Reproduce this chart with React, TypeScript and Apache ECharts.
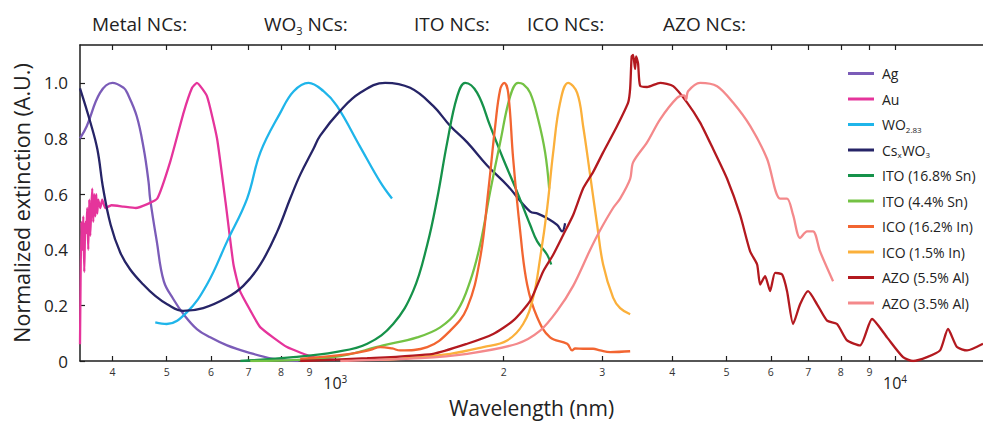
import React, { useEffect, useRef } from 'react';
import * as echarts from 'echarts';

const FONT = '"Open Sans", "Noto Sans", sans-serif';

// Axis extents (nm)
const xMinNm = 350;
const xMaxNm = 14360;
const yMax = 1.136;

// Tick marks (nm)
const minorTickNm = [400, 500, 600, 700, 800, 900, 2000, 3000, 4000, 5000, 6000, 7000, 8000, 9000];
const majorTickNm = [1000, 10000];
const yTicks = [0, 0.2, 0.4, 0.6, 0.8, 1.0];

const groupLabels = ['Metal NCs:', '{a|WO}{b|3}{a| NCs:}', 'ITO NCs:', 'ICO NCs:', 'AZO NCs:'];

const seriesNames = ['Ag', 'Au', 'WO2.83', 'CsxWO3', 'ITO (16.8% Sn)', 'ITO (4.4% Sn)', 'ICO (16.2% In)', 'ICO (1.5% In)', 'AZO (5.5% Al)', 'AZO (3.5% Al)'];
const seriesColors = ['#7b5cb8', '#e5349b', '#1fb5ea', '#262467', '#16924a', '#74c244', '#f26531', '#fbb03b', '#b3191f', '#f4898b'];

const agNm = [350, 360, 380, 400, 419, 425, 442, 455, 464, 467, 480, 494, 514, 536, 566, 598, 641, 696, 775, 860];
const agY = [0.80, 0.845, 0.964, 1.0, 0.982, 0.964, 0.88, 0.762, 0.644, 0.584, 0.43, 0.287, 0.222, 0.168, 0.115, 0.085, 0.056, 0.032, 0.008, 0.0];

const auNm = [350, 351.9, 353.3, 354.8, 356.2, 357.7, 359.2, 360.6, 362.1, 363.6, 365.1, 366.6, 368.1, 369.6, 371.1, 372.7, 374.2, 375.7, 377.3, 380.4, 383.5, 388.3, 398.3, 418.7, 440.2, 462.8, 481, 507, 536, 555, 566, 590, 615, 637, 658, 676, 706, 735, 820, 914, 1000];
const auY = [0.06, 0.50, 0.40, 0.52, 0.32, 0.50, 0.46, 0.55, 0.40, 0.58, 0.45, 0.55, 0.62, 0.50, 0.60, 0.52, 0.60, 0.53, 0.58, 0.55, 0.58, 0.55, 0.56, 0.555, 0.55, 0.565, 0.584, 0.715, 0.893, 0.982, 1.0, 0.952, 0.80, 0.57, 0.347, 0.251, 0.18, 0.121, 0.05, 0.014, 0.004];

const wo283Nm = [477, 500, 543, 590, 641, 696, 735, 798, 843, 896, 953, 1007, 1108, 1203, 1263];
const wo283Y = [0.139, 0.133, 0.175, 0.275, 0.43, 0.584, 0.75, 0.893, 0.97, 1.0, 0.97, 0.917, 0.77, 0.644, 0.584];

const cswo3Nm = [350, 365, 376, 385, 397, 413, 430, 454, 477, 501, 535, 581, 641, 685, 735, 788, 831, 866, 914, 940, 1021, 1108, 1228, 1361, 1496, 1605, 1721, 1868, 2028, 2230, 2300, 2391, 2491, 2543, 2574];
const cswo3Y = [0.98, 0.86, 0.76, 0.62, 0.49, 0.39, 0.33, 0.275, 0.234, 0.204, 0.18, 0.19, 0.228, 0.27, 0.347, 0.466, 0.584, 0.67, 0.762, 0.81, 0.9, 0.964, 1.0, 0.982, 0.917, 0.845, 0.786, 0.703, 0.632, 0.537, 0.53, 0.513, 0.489, 0.466, 0.495];

const ito168Nm = [677, 841, 1000, 1141, 1269, 1378, 1460, 1521, 1585, 1652, 1707, 1793, 1891, 1995, 2113, 2230, 2295, 2391, 2431];
const ito168Y = [0.0, 0.014, 0.032, 0.062, 0.133, 0.252, 0.418, 0.584, 0.786, 0.952, 1.0, 0.964, 0.845, 0.727, 0.608, 0.489, 0.43, 0.382, 0.347];

const ito44Nm = [705, 992, 1218, 1401, 1540, 1652, 1742, 1815, 1891, 1971, 2054, 2122, 2166, 2230, 2304, 2371, 2411];
const ito44Y = [0.0, 0.014, 0.056, 0.085, 0.121, 0.18, 0.287, 0.418, 0.608, 0.786, 0.952, 1.0, 0.995, 0.964, 0.869, 0.75, 0.62];

const ico162Nm = [866, 1064, 1155, 1203, 1264, 1306, 1460, 1605, 1721, 1815, 1876, 1931, 1971, 2004, 2037, 2079, 2140, 2202, 2295, 2420, 2596, 2650, 2683, 2772, 2888, 2973, 3098, 3364];
const ico162Y = [0.008, 0.026, 0.04, 0.05, 0.045, 0.038, 0.05, 0.109, 0.192, 0.37, 0.608, 0.845, 0.976, 1.0, 0.964, 0.727, 0.466, 0.275, 0.157, 0.085, 0.062, 0.038, 0.045, 0.044, 0.044, 0.038, 0.032, 0.035];

const ico15Nm = [1203, 1306, 1605, 1838, 2028, 2166, 2257, 2323, 2391, 2451, 2522, 2607, 2705, 2772, 2854, 2937, 3010, 3136, 3228, 3364];
const ico15Y = [0.005, 0.008, 0.026, 0.05, 0.074, 0.133, 0.228, 0.37, 0.549, 0.75, 0.929, 1.0, 0.964, 0.845, 0.667, 0.489, 0.347, 0.228, 0.19, 0.168];

const azo55Nm = [866, 1141, 1496, 1721, 1915, 2079, 2230, 2352, 2451, 2554, 2661, 2772, 2888, 3010, 3188, 3337, 3364, 3385, 3405, 3433, 3447, 3475, 3504, 3606, 3805, 4015, 4252, 4486, 4732, 5012, 5288, 5510, 5671, 5741, 5860, 5982, 6106, 6284, 6414, 6575, 6767, 6993, 7256, 7561, 7878, 8209, 8660, 9097, 9676, 10335, 10770, 11406, 12034, 12434, 12904, 13446, 14360];
const azo55Y = [0.0, 0.01, 0.026, 0.062, 0.097, 0.145, 0.216, 0.322, 0.382, 0.453, 0.525, 0.62, 0.679, 0.75, 0.845, 0.93, 0.98, 1.095, 1.1, 1.05, 1.095, 1.07, 0.99, 0.985, 1.0, 0.988, 0.929, 0.857, 0.762, 0.655, 0.525, 0.394, 0.347, 0.275, 0.305, 0.251, 0.317, 0.311, 0.251, 0.133, 0.204, 0.251, 0.204, 0.145, 0.133, 0.074, 0.056, 0.151, 0.085, 0.014, 0.0, 0.014, 0.038, 0.115, 0.05, 0.038, 0.062];

const azo35Nm = [1021, 1419, 1721, 2113, 2323, 2491, 2661, 2854, 2973, 3136, 3228, 3364, 3405, 3606, 3805, 4080, 4200, 4234, 4269, 4486, 4810, 5136, 5510, 5907, 6232, 6414, 6575, 6767, 6965, 7138, 7346, 7750];
const azo35Y = [0.0, 0.01, 0.026, 0.062, 0.109, 0.18, 0.27, 0.40, 0.47, 0.55, 0.584, 0.655, 0.714, 0.786, 0.869, 0.946, 0.955, 0.94, 0.97, 1.0, 0.988, 0.929, 0.845, 0.727, 0.584, 0.584, 0.525, 0.442, 0.466, 0.466, 0.394, 0.287];

const seriesNm = [agNm, auNm, wo283Nm, cswo3Nm, ito168Nm, ito44Nm, ico162Nm, ico15Nm, azo55Nm, azo35Nm];
const seriesY = [agY, auY, wo283Y, cswo3Y, ito168Y, ito44Y, ico162Y, ico15Y, azo55Y, azo35Y];
const seriesSmooth = [0.4, 0.15, 0.4, 0.4, 0.4, 0.4, 0.4, 0.4, 0.2, 0.3];

const labelPos = [
  { left: 92, top: 14 },
  { left: 264, top: 14 },
  { left: 414, top: 14 },
  { left: 527, top: 14 },
  { left: 663, top: 14 },
];

export default function App() {
  const ref = useRef<HTMLDivElement>(null);
  useEffect(() => {
    if (!ref.current) return;
    const chart = echarts.init(ref.current, undefined, { renderer: 'svg' });
    const lg = (v: number) => Math.log10(v);
    const xMin = lg(xMinNm);
    const xMax = lg(xMaxNm);
    const allTicks = [...minorTickNm, ...majorTickNm].map(lg);
    const axisColor = '#1e1e1e';

    const legendFormatter = (name: string) => {
      if (name === 'WO2.83') return '{n|WO}{s|2.83}';
      if (name === 'CsxWO3') return '{n|Cs}{s|x}{n|WO}{s|3}';
      return name;
    };

    const option: any = {
      animation: false,
      backgroundColor: '#ffffff',
      textStyle: { fontFamily: FONT },
      grid: { left: 80, right: 0, top: 45, bottom: 59, containLabel: false },
      legend: {
        orient: 'vertical',
        left: 843,
        top: 60,
        icon: 'rect',
        itemWidth: 26,
        itemHeight: 3,
        itemGap: 8.5,
        data: seriesNames,
        formatter: legendFormatter,
        textStyle: {
          fontFamily: FONT,
          fontSize: 14,
          color: '#222',
          lineHeight: 17,
          padding: [0, 0, 0, 3],
          rich: {
            n: { fontFamily: FONT, fontSize: 14, color: '#222', lineHeight: 17 },
            s: { fontFamily: FONT, fontSize: 8, color: '#222', lineHeight: 8, verticalAlign: 'bottom' },
          },
        },
      },
      xAxis: [
        {
          type: 'value',
          position: 'bottom',
          min: xMin,
          max: xMax,
          axisLine: { show: true, onZero: false, lineStyle: { color: axisColor, width: 1.5 } },
          axisTick: { show: true, inside: true, length: 5, customValues: allTicks, lineStyle: { color: axisColor, width: 1.2 } },
          axisLabel: {
            customValues: minorTickNm.map(lg),
            formatter: (v: number) => {
              const n = Math.pow(10, v);
              const d = Math.pow(10, Math.floor(v + 1e-9));
              return String(Math.round(n / d));
            },
            fontSize: 10.5,
            color: '#333',
            margin: 5,
            fontFamily: FONT,
          },
          splitLine: { show: false },
          name: 'Wavelength (nm)',
          nameLocation: 'middle',
          nameGap: 36,
          nameTextStyle: { fontSize: 21, color: '#222', fontFamily: FONT },
        },
        {
          type: 'value',
          position: 'bottom',
          min: xMin,
          max: xMax,
          axisLine: { show: false },
          axisTick: { show: false },
          axisLabel: {
            customValues: majorTickNm.map(lg),
            formatter: (v: number) => '{b|10}{s|' + Math.round(v) + '}',
            margin: 13,
            rich: {
              b: { fontSize: 16, color: '#222', fontFamily: FONT, lineHeight: 18 },
              s: { fontSize: 10, color: '#222', fontFamily: FONT, lineHeight: 10, verticalAlign: 'top' },
            },
          },
          splitLine: { show: false },
        },
        {
          type: 'value',
          position: 'top',
          min: xMin,
          max: xMax,
          axisLine: { show: true, onZero: false, lineStyle: { color: axisColor, width: 1.5 } },
          axisTick: { show: true, inside: true, length: 5, customValues: allTicks, lineStyle: { color: axisColor, width: 1.2 } },
          axisLabel: { show: false },
          splitLine: { show: false },
        },
      ],
      yAxis: {
        type: 'value',
        min: 0,
        max: yMax,
        interval: 0.2,
        axisLine: { show: true, onZero: false, lineStyle: { color: axisColor, width: 1.5 } },
        axisTick: { show: true, inside: true, length: 5, customValues: yTicks, lineStyle: { color: axisColor, width: 1.2 } },
        axisLabel: {
          customValues: yTicks,
          formatter: (v: number) => (v === 0 ? '0' : v.toFixed(1)),
          fontSize: 17,
          color: '#222',
          margin: 12,
          fontFamily: FONT,
        },
        splitLine: { show: false },
        name: 'Normalized extinction (A.U.)',
        nameLocation: 'middle',
        nameGap: 48,
        nameTextStyle: { fontSize: 21.5, color: '#222', fontFamily: FONT },
      },
      graphic: groupLabels.map((t, i) => ({
        type: 'text',
        left: labelPos[i].left,
        top: labelPos[i].top,
        style: {
          text: t,
          fontSize: 19,
          fontFamily: FONT,
          fill: '#222',
          rich: {
            a: { fontSize: 19, fontFamily: FONT, fill: '#222', lineHeight: 24 },
            b: { fontSize: 11, fontFamily: FONT, fill: '#222', lineHeight: 11, verticalAlign: 'bottom' },
          },
        },
      })),
      series: seriesNames.map((name, i) => ({
        name,
        type: 'line',
        xAxisIndex: 0,
        symbol: 'none',
        showSymbol: false,
        smooth: seriesSmooth[i],
        color: seriesColors[i],
        lineStyle: { color: seriesColors[i], width: 2.3 },
        data: seriesNm[i].map((n, j) => [lg(n), seriesY[i][j]]),
      })),
    };
    chart.setOption(option);
    return () => chart.dispose();
  }, []);
  return <div ref={ref} style={{ position: 'fixed', left: 0, top: 0, width: 983, height: 423, background: '#fff' }} />;
}
